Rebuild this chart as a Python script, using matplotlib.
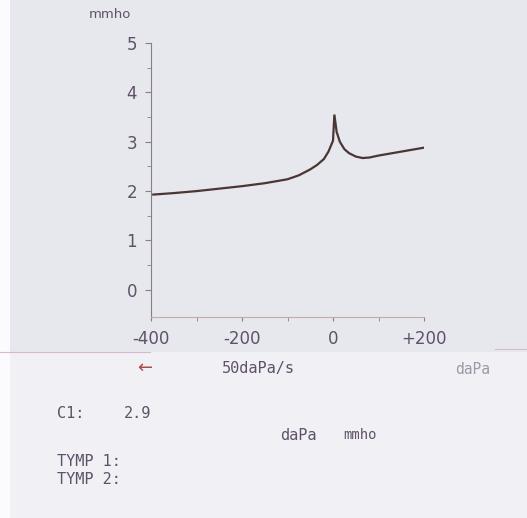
import matplotlib
matplotlib.use("Agg")
import matplotlib.pyplot as plt
from matplotlib.patches import Rectangle

# Data
pressure_daPa = [-395, -350, -300, -250, -200, -150, -100, -75, -50, -35, -20, -10, 0, 3, 8, 15, 25, 35, 50, 65, 80, 100, 125, 150, 175, 200]
admittance_mmho = [1.93, 1.96, 2.0, 2.05, 2.1, 2.16, 2.24, 2.32, 2.44, 2.53, 2.65, 2.8, 3.02, 3.55, 3.2, 3.0, 2.85, 2.77, 2.7, 2.67, 2.68, 2.72, 2.76, 2.8, 2.84, 2.88]
x_ticks = [-400, -200, 0, 200]
x_tick_labels = ["-400", "-200", "0", "+200"]
y_ticks = [0, 1, 2, 3, 4, 5]

W, H = 527, 518
fig = plt.figure(figsize=(W / 100, H / 100), dpi=100)
fig.patch.set_facecolor("#e7e7ee")
# lighter lower part of the paper
fig.patches.append(Rectangle((0, 0), 1, 1 - 352 / H, transform=fig.transFigure,
                             facecolor="#f0f0f5", edgecolor="none", zorder=0))
fig.patches.append(Rectangle((0, 0), 10 / W, 1, transform=fig.transFigure,
                             facecolor="#fbfbfd", edgecolor="none", zorder=0))

txt = "#5e5268"
axc = "#8a7f88"
mono = "DejaVu Sans Mono"

ax = fig.add_axes([151 / W, 1 - 317 / H, (424 - 151) / W, (317 - 43) / H])
ax.set_facecolor("none")
ax.plot(pressure_daPa, admittance_mmho, color="#4a3632", lw=1.6, solid_joinstyle="miter")
ax.set_xlim(-400, 200)
ax.set_ylim(-0.55, 5)
for s in ["top", "right"]:
    ax.spines[s].set_visible(False)
ax.spines["left"].set_color(axc)
ax.spines["bottom"].set_color("#c9a9a6")
ax.spines["left"].set_bounds(-0.6, 5)
ax.set_yticks(y_ticks)
ax.set_yticks([0.5, 1.5, 2.5, 3.5, 4.5], minor=True)
ax.set_xticks(x_ticks)
ax.set_xticklabels(x_tick_labels)
ax.set_xticks([-300, -100, 100], minor=True)
ax.tick_params(axis="both", which="both", colors=axc, labelcolor=txt, labelsize=12)
ax.tick_params(axis="y", which="major", length=4, pad=6)
ax.tick_params(axis="y", which="minor", length=3)
ax.tick_params(axis="x", which="both", length=3, pad=6)

fig.text(110 / W, 1 - 15 / H, "mmho", color=txt, fontsize=9.5, ha="center", va="center")
fig.text(145 / W, 1 - 368 / H, "\u2190", color="#b04a4a", fontsize=13, ha="center", va="center")
fig.text(222 / W, 1 - 369 / H, "50daPa/s", color=txt, fontsize=11, family=mono, ha="left", va="center")
fig.text(455 / W, 1 - 370 / H, "daPa", color="#9a9aa8", fontsize=10.5, family=mono, ha="left", va="center")
line_y = 1 - 352 / H
fig.add_artist(plt.Line2D([0, 150 / W], [line_y, line_y], transform=fig.transFigure, color="#d8b8d0", lw=0.8))
fig.add_artist(plt.Line2D([495 / W, 1], [line_y + 0.006, line_y + 0.006], transform=fig.transFigure, color="#d8b8d0", lw=0.8))

fig.text(57 / W, 1 - 413 / H, "C1:", color=txt, fontsize=11, family=mono, ha="left", va="center")
fig.text(124 / W, 1 - 413 / H, "2.9", color=txt, fontsize=11, family=mono, ha="left", va="center")
fig.text(280 / W, 1 - 435 / H, "daPa", color=txt, fontsize=11, family=mono, ha="left", va="center")
fig.text(343 / W, 1 - 435 / H, "mmho", color=txt, fontsize=10, family=mono, ha="left", va="center")
fig.text(57 / W, 1 - 461 / H, "TYMP 1:", color=txt, fontsize=11, family=mono, ha="left", va="center")
fig.text(57 / W, 1 - 479 / H, "TYMP 2:", color=txt, fontsize=11, family=mono, ha="left", va="center")

fig.savefig("out.png", dpi=100, facecolor=fig.get_facecolor())
